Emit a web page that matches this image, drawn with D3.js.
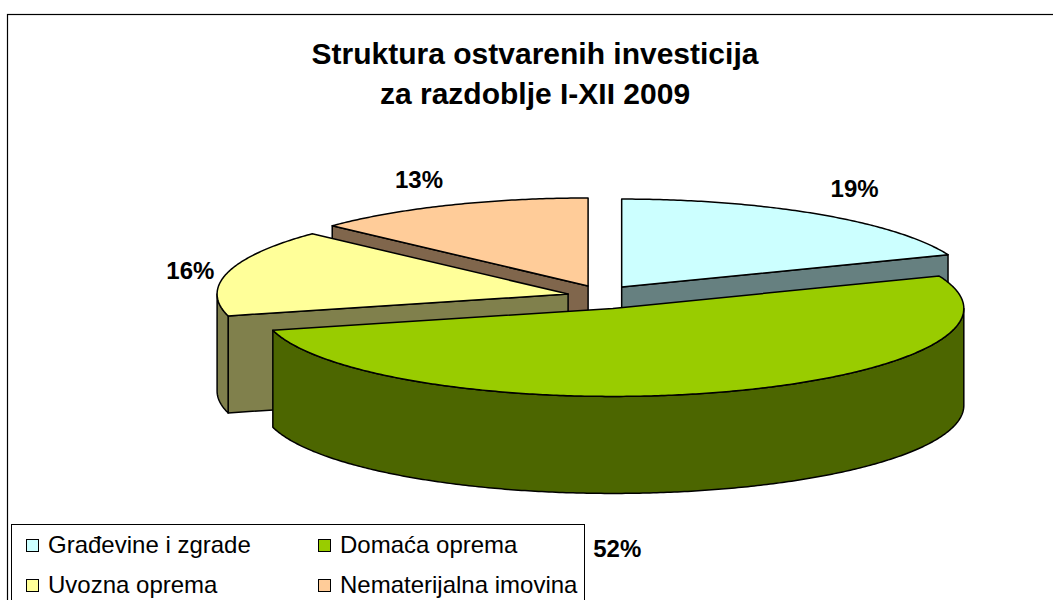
<!DOCTYPE html>
<html lang="hr">

<head>
    <meta charset="UTF-8">
    <title>Struktura ostvarenih investicija</title>
    <style>
        body {
            margin: 0;
            background: #fff;
        }

        svg {
            display: block;
            font-family: "Liberation Sans", Arial, sans-serif;
        }

        .title {
            font-size: 30px;
            font-weight: bold;
            text-anchor: middle;
        }

        .pct {
            font-size: 24px;
            font-weight: bold;
            text-anchor: middle;
        }

        .legend text {
            font-size: 24px;
        }
    </style>
    <script src="https://d3js.org/d3.v7.min.js"></script>
</head>

<body>
    <div id="chart"></div>
    <script>
        // data
        const categories = ["Građevine i zgrade", "Domaća oprema", "Uvozna oprema", "Nematerijalna imovina"];
        const values = [19, 52, 16, 13];
        const labels = ["19%", "52%", "16%", "13%"];
        const titleLines = ["Struktura ostvarenih investicija", "za razdoblje I-XII 2009"];

        const topColors = ["#CCFFFF", "#99CC00", "#FFFF99", "#FFCC99"];
        const sideColors = ["#668080", "#4C6600", "#80804C", "#80664C"];

        const width = 1053;
        const height = 600;

        // pie geometry (ellipse seen at a tilt)
        const cx = 602, cy = 297;
        const rx = 351, ry = 88;
        const depth = 97;
        const explode = { x: 35, y: 12 };

        // small nudges so the % labels sit where excel put them
        const labelNudge = [[12, 0], [-117, 30], [3, 6], [-13, 3]];

        const svg = d3.select("#chart").append("svg")
            .attr("width", width)
            .attr("height", height);

        // outer chart border
        svg.append("rect")
            .attr("x", 7.5).attr("y", 14.5)
            .attr("width", width + 20).attr("height", height)
            .attr("fill", "none").attr("stroke", "#000").attr("stroke-width", 1.2);

        svg.selectAll(".title")
            .data(titleLines)
            .enter().append("text")
            .attr("class", "title")
            .attr("x", 535)
            .attr("y", (d, i) => 64 + i * 40)
            .text(d => d);

        const pie = d3.pie().sort(null).value(d => d);
        const arcs = pie(values).map((a, i) => {
            const mid = (a.startAngle + a.endAngle) / 2;
            return {
                i: i,
                a0: a.startAngle,
                a1: a.endAngle,
                mid: mid,
                c: [cx + explode.x * Math.sin(mid), cy - explode.y * Math.cos(mid)]
            };
        });

        const rim = (a, c, dy = 0) => [c[0] + rx * Math.sin(a), c[1] - ry * Math.cos(a) + dy];

        function arcPoints(a0, a1, c, dy = 0) {
            const n = Math.max(2, Math.ceil((a1 - a0) / 0.01));
            return d3.range(n + 1).map(k => rim(a0 + (a1 - a0) * k / n, c, dy));
        }

        const line = d3.line();
        const poly = pts => line(pts) + "Z";

        // back slices first
        const order = arcs.slice().sort((a, b) => Math.cos(b.mid) - Math.cos(a.mid));

        const pieG = svg.append("g")
            .attr("stroke", "#000")
            .attr("stroke-width", 1.5)
            .attr("stroke-linejoin", "round");

        order.forEach(s => {
            const g = pieG.append("g");
            const c = s.c;
            const cBot = [c[0], c[1] + depth];

            // radial face at start angle
            if (Math.sin(s.a0) < -1e-6) {
                const p = rim(s.a0, c);
                g.append("path")
                    .attr("d", poly([c, p, [p[0], p[1] + depth], cBot]))
                    .attr("fill", sideColors[s.i]);
            }
            // radial face at end angle
            if (Math.sin(s.a1) > 1e-6) {
                const p = rim(s.a1, c);
                g.append("path")
                    .attr("d", poly([c, p, [p[0], p[1] + depth], cBot]))
                    .attr("fill", sideColors[s.i]);
            }
            // outer wall, front half only
            const w0 = Math.max(s.a0, Math.PI / 2);
            const w1 = Math.min(s.a1, Math.PI * 1.5);
            if (w1 > w0) {
                const topPts = arcPoints(w0, w1, c);
                const botPts = arcPoints(w0, w1, c, depth).reverse();
                g.append("path")
                    .attr("d", poly(topPts.concat(botPts)))
                    .attr("fill", sideColors[s.i]);
            }
            // top
            g.append("path")
                .attr("d", poly([c].concat(arcPoints(s.a0, s.a1, c))))
                .attr("fill", topColors[s.i]);
        });

        // percentage labels
        svg.selectAll(".pct")
            .data(arcs)
            .enter().append("text")
            .attr("class", "pct")
            .attr("x", d => d.c[0] + rx * 1.12 * Math.sin(d.mid) + labelNudge[d.i][0])
            .attr("y", d => d.c[1] - ry * 1.35 * Math.cos(d.mid) + (Math.cos(d.mid) < 0 ? depth : 0) + labelNudge[d.i][1])
            .attr("dy", "0.35em")
            .text(d => labels[d.i]);

        // legend
        const legend = svg.append("g").attr("class", "legend");

        legend.append("rect")
            .attr("x", 11.5).attr("y", 524.5)
            .attr("width", 573).attr("height", 100)
            .attr("fill", "#fff").attr("stroke", "#000").attr("stroke-width", 1);

        const colX = [26, 318];
        const rowY = [539, 579];

        const items = legend.selectAll(".item")
            .data(categories)
            .enter().append("g")
            .attr("class", "item")
            .attr("transform", (d, i) => `translate(${colX[i % 2]}, ${rowY[Math.floor(i / 2)]})`);

        items.append("rect")
            .attr("x", 0.5).attr("y", 0.5)
            .attr("width", 12).attr("height", 12)
            .attr("fill", (d, i) => topColors[i])
            .attr("stroke", "#000");

        items.append("text")
            .attr("x", 22)
            .attr("y", 14)
            .text(d => d);
    </script>
</body>

</html>
